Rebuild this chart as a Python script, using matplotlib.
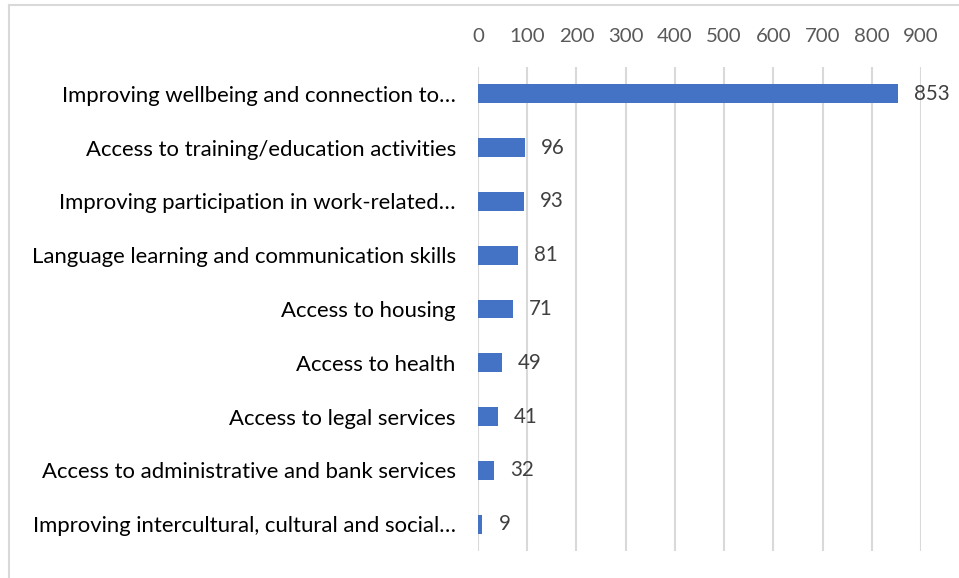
import matplotlib
matplotlib.use("Agg")
import matplotlib.pyplot as plt
from matplotlib.lines import Line2D
import numpy as np

plt.rcParams['font.family'] = ['Lato', 'DejaVu Sans']

categories = ["Improving wellbeing and connection to…",
              "Access to training/education activities",
              "Improving participation in work-related…",
              "Language learning and communication skills",
              "Access to housing",
              "Access to health",
              "Access to legal services",
              "Access to administrative and bank services",
              "Improving intercultural, cultural and social…"]
values = [853, 96, 93, 81, 71, 49, 41, 32, 9]
xticks = np.arange(0, 901, 100)

W, H = 959, 578
fig = plt.figure(figsize=(W/100, H/100), dpi=100)
ax = fig.add_axes([478/W, 1-551/H, (921-478)/W, (551-67)/H])

y = np.arange(len(categories))
ax.barh(y, values, height=0.35, color="#4472C4", zorder=3)
for yi, v in zip(y, values):
    ax.annotate(str(v), (v, yi), xytext=(11.5, 0), textcoords="offset points",
                ha="left", va="center", fontsize=14.8, color="#404040")

ax.set_xlim(0, 900)
ax.set_ylim(len(categories)-0.5, -0.5)
ax.set_xticks(xticks)
ax.set_yticks(y)
ax.set_yticklabels(categories)
ax.xaxis.tick_top()
ax.tick_params(axis="x", length=0, pad=16, labelsize=14.7, labelcolor="#595959")
ax.tick_params(axis="y", length=0, pad=16, labelsize=15.9, labelcolor="black")
ax.grid(axis="x", color="#d9d9d9", linewidth=1.5, zorder=0)
for s in ax.spines.values():
    s.set_visible(False)

# outer chart frame (left and top edges)
fig.add_artist(Line2D([9/W, 9/W], [0, 1-5/H], color="#d9d9d9", linewidth=1.5))
fig.add_artist(Line2D([9/W, 1], [1-5/H, 1-5/H], color="#d9d9d9", linewidth=1.5))

fig.savefig("out.png", dpi=100)
